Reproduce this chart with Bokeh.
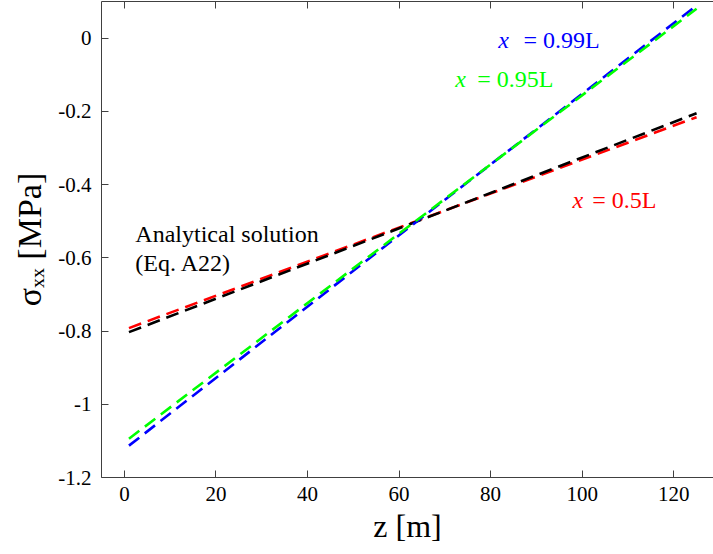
from bokeh.plotting import figure
from bokeh.models import Range1d, LinearAxis, FixedTicker, CustomJSTickFormatter
from bokeh.embed import file_html
from bokeh.resources import INLINE
from bokeh.core.properties import value

# ---- data ----
z_vals = [1, 62, 125]
sxx_x05 = [-0.792, -0.508, -0.216]      # x = 0.5L (red)
sxx_analytical = [-0.803, -0.510, -0.205]  # analytical (black)
sxx_x099 = [-1.113, -0.519, 0.089]      # x = 0.99L (blue)
sxx_x095 = [-1.094, -0.515, 0.080]      # x = 0.95L (green)

x_ticks = [0, 20, 40, 60, 80, 100, 120]
y_ticks = [-1.2, -1.0, -0.8, -0.6, -0.4, -0.2, 0.0]
y_tick_labels = ["-1.2", "-1", "-0.8", "-0.6", "-0.4", "-0.2", "0"]

FONT = "Liberation Serif"
AXC = "#404040"

p = figure(frame_width=612, frame_height=476, output_backend="svg",
           toolbar_location=None, x_range=Range1d(-5, 128.7),
           y_range=Range1d(-1.2, 0.1), min_border_left=101,
           min_border_top=1, min_border_right=0, min_border_bottom=10)
p.outline_line_color = None
p.xgrid.visible = False
p.ygrid.visible = False
p.background_fill_color = "white"
p.border_fill_color = "white"

for ax in (p.xaxis[0], p.yaxis[0]):
    ax.axis_line_color = AXC
    ax.major_tick_line_color = AXC
    ax.major_tick_in = 7
    ax.major_tick_out = 0
    ax.minor_tick_line_color = None
    ax.major_label_text_font = FONT
    ax.major_label_text_font_size = "21px"
    ax.major_label_text_color = "black"
    ax.axis_label_text_font = FONT
    ax.axis_label_text_font_style = "normal"
    ax.axis_label_text_color = "black"

p.xaxis.axis_label_text_font_size = "32px"
p.yaxis.axis_label_text_font_size = "34px"
p.xaxis.ticker = FixedTicker(ticks=x_ticks)
p.yaxis.ticker = FixedTicker(ticks=y_ticks)
p.yaxis.major_label_overrides = {t: l for t, l in zip(y_ticks, y_tick_labels)}
p.xaxis.major_label_standoff = 9
p.yaxis.major_label_standoff = 10
p.xaxis.axis_label = "z [m]"
p.yaxis.axis_label = "σₓₓ [MPa]"
p.xaxis.axis_label_standoff = 4
p.yaxis.axis_label_standoff = 7

top = LinearAxis(ticker=FixedTicker(ticks=x_ticks), axis_line_color=AXC,
                 major_tick_line_color=AXC, major_tick_in=7, major_tick_out=0,
                 minor_tick_line_color=None,
                 formatter=CustomJSTickFormatter(code="return ''"),
                 major_label_standoff=0)
p.add_layout(top, "above")

dash = "13 7"
lw = 2.6
p.line(z_vals, sxx_x05, line_color="#ff0000", line_width=lw, line_dash=dash)
p.line(z_vals, sxx_analytical, line_color="#000000", line_width=lw, line_dash=dash)
p.line(z_vals, sxx_x099, line_color="#0000ff", line_width=lw, line_dash=dash)
p.line(z_vals, sxx_x095, line_color="#00ff00", line_width=lw, line_dash=dash)

def txt(x, y, s, color, italic=False, size="24px"):
    p.text(x=[x], y=[y], text=[s], text_color=color, text_font=value(FONT),
           text_font_size=size, text_align="left", text_baseline="alphabetic",
           text_font_style="italic" if italic else "normal")

txt(2.4, -0.534, "Analytical solution", "black")
txt(2.4, -0.613, "(Eq. A22)", "black")
txt(81.7, -0.006, "x", "#0000ff", italic=True)
txt(87.2, -0.006, "= 0.99L", "#0000ff")
txt(72.3, -0.113, "x", "#00ff00", italic=True)
txt(77.1, -0.113, "= 0.95L", "#00ff00")
txt(97.9, -0.443, "x", "#ff0000", italic=True)
txt(102.2, -0.443, "= 0.5L", "#ff0000")

open("out.html", "w").write(file_html(p, INLINE))
